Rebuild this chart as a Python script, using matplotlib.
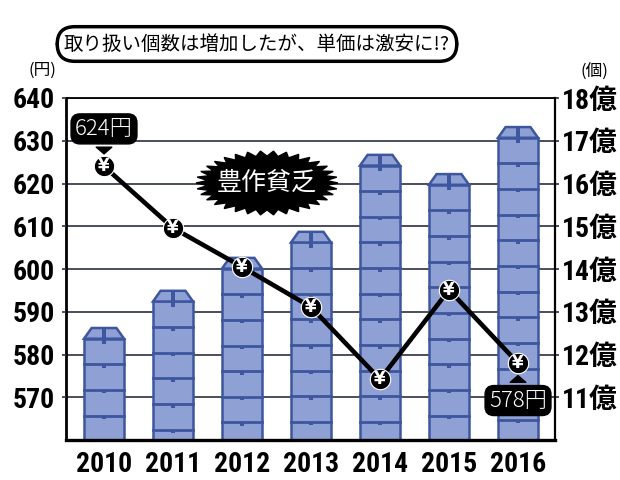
import numpy as np
import matplotlib
matplotlib.use('Agg')
import matplotlib.pyplot as plt
from matplotlib import font_manager
from matplotlib.patches import Polygon, Rectangle

""" 取り扱い個数と単価の推移 """
years = ['2010', '2011', '2012', '2013', '2014', '2015', '2016']
price = [624, 609.6, 600.5, 591.1, 574.2, 595.1, 578]          # 円
volume = [12.62, 13.49, 14.26, 14.87, 16.67, 16.22, 17.32]      # 億個
price_ticks = [570, 580, 590, 600, 610, 620, 630, 640]
volume_ticks = [11, 12, 13, 14, 15, 16, 17, 18]

title = '取り扱い個数は増加したが、単価は激安に!?'
burst_text = '豊作貧乏'

FILL = '#8fa1d4'
EDGE = '#3d569e'
GRID = '#3b3f52'
JP_FONT = ['Noto Sans CJK JP', 'DejaVu Sans']


def pickNarrow():
    """ find a condensed bold face for the numbers, if there is one """
    narrow = ('condensed', 'semi-condensed', 'extra-condensed', 'ultra-condensed')
    found = []
    for f in font_manager.fontManager.ttflist:
        if 'Narrow' in f.name or 'Condensed' in f.name or f.stretch in narrow:
            found.append(f)
    for pref in ['Liberation Sans Narrow', 'Roboto Condensed', 'DejaVu Sans',
                 'Noto Sans', 'Open Sans']:
        for f in found:
            if f.name.startswith(pref):
                return f.name, f.stretch
    if found:
        return found[0].name, found[0].stretch
    return None, 'normal'


narrow_name, narrow_stretch = pickNarrow()
if narrow_name:
    NUM_FONT = [narrow_name, 'Noto Sans CJK JP', 'DejaVu Sans']
    num_size = 20
else:
    NUM_FONT = ['DejaVu Sans', 'Noto Sans CJK JP']
    narrow_stretch = 'normal'
    num_size = 15
num_kw = dict(fontsize=num_size, fontweight='bold', family=NUM_FONT,
              fontstretch=narrow_stretch)

fig = plt.figure(figsize=(6.2, 4.8), dpi=100)
ax = fig.add_axes([66 / 620, 40 / 480, 489 / 620, 342 / 480])
ax2 = ax.twinx()

x = np.arange(len(years))
w = 0.58
lid = 0.25
box_h = 0.6
chamfer = 0.11

# bars drawn as stacked cardboard boxes
ax.set_ylim(10, 18)
ax.set_xlim(-0.551, 6.536)
ax.set_axisbelow(True)
shoulder = [v - lid for v in volume]
ax.bar(x, [s - 10 for s in shoulder], bottom=10, width=w, color=FILL,
       edgecolor=EDGE, linewidth=1.8, zorder=2)
for xi, top, sh in zip(x, volume, shoulder):
    ax.add_patch(Polygon([(xi - w / 2, sh), (xi - w / 2 + chamfer, top),
                          (xi + w / 2 - chamfer, top), (xi + w / 2, sh)],
                         closed=True, fc=FILL, ec=EDGE, lw=1.8, zorder=2))
    ax.add_patch(Rectangle((xi - 0.03, sh - 0.12), 0.06, top - sh + 0.12,
                           fc=EDGE, ec='none', zorder=3))
    yb = sh - box_h
    while yb > 10.05:
        ax.plot([xi - w / 2, xi + w / 2], [yb, yb], color=EDGE, lw=2.0, zorder=3)
        ax.add_patch(Rectangle((xi - 0.035, yb - 0.08), 0.07, 0.08,
                               fc=EDGE, ec='none', zorder=3))
        yb -= box_h

ax.yaxis.tick_right()
ax.set_yticks(volume_ticks)
ax.set_yticklabels([f'{v}億' for v in volume_ticks], **num_kw)
ax.yaxis.grid(True, color=GRID, lw=1.3, zorder=0)
ax.tick_params(axis='y', length=3, width=1.3, color=GRID, pad=2)
ax.set_xticks(x)
ax.set_xticklabels(years, **num_kw)
ax.tick_params(axis='x', length=0, pad=8)

for side, lw in [('left', 2.0), ('bottom', 2.4), ('top', 1.3), ('right', 1.6)]:
    ax.spines[side].set_linewidth(lw)
    ax.spines[side].set_color('black')

# price line
ax2.set_ylim(560, 640)
ax2.yaxis.tick_left()
ax2.set_yticks(price_ticks)
ax2.set_yticklabels([str(p) for p in price_ticks], **num_kw)
ax2.tick_params(axis='y', length=3, width=1.3, color=GRID, pad=5)
for s in ax2.spines.values():
    s.set_visible(False)

ax2.plot(x, price, color='black', lw=3.3, zorder=4)
ax2.scatter(x, price, s=215, color='black', edgecolor='white', lw=0.8, zorder=5)
for xi, p in zip(x, price):
    ax2.text(xi, p, '¥', color='white', fontsize=12, fontweight='bold',
             ha='center', va='center', family='DejaVu Sans', zorder=6)

for i, dy in [(0, 27), (len(price) - 1, -27)]:
    ax2.annotate(f'{price[i]:.0f}円', xy=(x[i], price[i]), xytext=(0, dy),
                 textcoords='offset points', ha='center', va='center',
                 color='white', fontsize=16, family=JP_FONT, fontweight='light',
                 bbox=dict(boxstyle='round,pad=0.18,rounding_size=0.4',
                           fc='black', ec='black'),
                 arrowprops=dict(arrowstyle='wedge,tail_width=0.7',
                                 fc='black', ec='black', shrinkB=9),
                 zorder=7)

# 豊作貧乏 starburst
cx, cy = 2.67, 4.8 - 1.83
n = 68
ang = np.linspace(0, 2 * np.pi, n, endpoint=False)
r = np.where(np.arange(n) % 2 == 0, 1.0, 0.84)
pts = np.column_stack([cx + 0.71 * r * np.cos(ang), cy + 0.32 * r * np.sin(ang)])
ax2.add_patch(Polygon(pts, closed=True, fc='black', ec='black',
                      transform=fig.dpi_scale_trans, zorder=6))
fig.text(267 / 620, 1 - 183 / 480, burst_text, color='white', fontsize=18,
         family=JP_FONT, ha='center', va='center', zorder=8)

# title and unit labels
fig.text(257 / 620, 1 - 44 / 480, title, fontsize=14, family=JP_FONT,
         ha='center', va='center',
         bbox=dict(boxstyle='round,pad=0.35,rounding_size=0.9', fc='white',
                   ec='black', lw=2.5))
fig.text(42 / 620, 1 - 70 / 480, '(円)', fontsize=12, family=JP_FONT,
         ha='center', va='center')
fig.text(594 / 620, 1 - 72 / 480, '(個)', fontsize=12, family=JP_FONT,
         ha='center', va='center')

plt.savefig('out.png', dpi=100)
